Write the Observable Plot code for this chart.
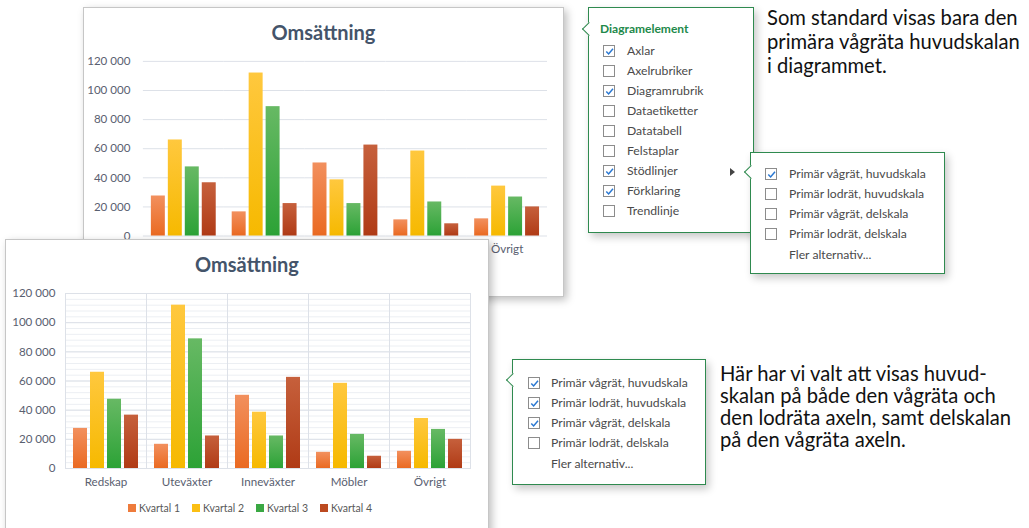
<!DOCTYPE html>
<html><head><meta charset="utf-8">
<script src="https://cdn.jsdelivr.net/npm/d3@7"></script>
<script src="https://cdn.jsdelivr.net/npm/@observablehq/plot@0.6"></script>
<style>
html,body{margin:0;padding:0}
body{width:1029px;height:528px;position:relative;overflow:hidden;background:#fff;font-family:Lato,sans-serif}
.chart{position:absolute;background:#fff;border:1px solid #c6c6c6;box-shadow:3px 3px 8px rgba(0,0,0,.25);box-sizing:border-box}
.chart svg.plot{position:absolute;left:0;top:0}
.ctitle{position:absolute;left:0;right:0;text-align:center;font-weight:bold;font-size:20px;color:#44546a;font-family:Lato,sans-serif}
.legend{position:absolute;left:0;right:0;display:flex;justify-content:center;gap:12px;font-size:10.5px;color:#595959}
.legend span.sw{display:inline-block;width:8px;height:8px;margin-right:3px;vertical-align:-0px}
.panel{position:absolute;background:#fff;border:1px solid #2f8a4f;box-shadow:3px 4px 8px rgba(0,0,0,.22);box-sizing:border-box}
.notch{position:absolute;width:9px;height:9px;background:#fff;border-left:1px solid #2f8a4f;border-bottom:1px solid #2f8a4f;transform:rotate(45deg)}
.row{position:absolute;font-size:12.2px;color:#4a4a4a;white-space:nowrap;line-height:14px}
.cb{position:absolute;width:12px;height:12px;border:1px solid #8c8c8c;background:#fff;box-sizing:border-box}
.cb svg{position:absolute;left:0;top:0}
.ptitle{position:absolute;font-weight:bold;font-size:12px;color:#22894a}
.note{position:absolute;font-size:20.2px;color:#111;font-family:Lato,sans-serif}
</style>
</head><body>
<svg width="0" height="0" style="position:absolute">
<defs>
<linearGradient id="gq1" x1="0" y1="0" x2="0" y2="1"><stop offset="0" stop-color="#f2905e"/><stop offset="1" stop-color="#ea6a22"/></linearGradient>
<linearGradient id="gq2" x1="0" y1="0" x2="0" y2="1"><stop offset="0" stop-color="#ffc83e"/><stop offset="1" stop-color="#f6b900"/></linearGradient>
<linearGradient id="gq3" x1="0" y1="0" x2="0" y2="1"><stop offset="0" stop-color="#67b964"/><stop offset="1" stop-color="#2ca236"/></linearGradient>
<linearGradient id="gq4" x1="0" y1="0" x2="0" y2="1"><stop offset="0" stop-color="#c6603c"/><stop offset="1" stop-color="#b03b16"/></linearGradient>
</defs></svg>
<script>
// ---- data ----
const categories = ["Redskap", "Uteväxter", "Inneväxter", "Möbler", "Övrigt"];
const quarters = ["Kvartal 1", "Kvartal 2", "Kvartal 3", "Kvartal 4"];
const kvartal1 = [27500, 16600, 50200, 11100, 11800];
const kvartal2 = [66000, 112000, 38600, 58400, 34300];
const kvartal3 = [47500, 88900, 22300, 23400, 26800];
const kvartal4 = [36600, 22300, 62500, 8400, 20000];
const yTicks = [0, 20000, 40000, 60000, 80000, 100000, 120000];
const legendColors = ["#ee7b3c", "#fbbf14", "#3aa843", "#bc4a20"];
const gradients = ["url(#gq1)", "url(#gq2)", "url(#gq3)", "url(#gq4)"];

const chartTitle = "Omsättning";
const menuItems = ["Axlar", "Axelrubriker", "Diagramrubrik", "Dataetiketter", "Datatabell", "Felstaplar", "Stödlinjer", "Förklaring", "Trendlinje"];
const menuChecked = [1, 0, 1, 0, 0, 0, 1, 1, 0];
const gridItems = ["Primär vågrät, huvudskala", "Primär lodrät, huvudskala", "Primär vågrät, delskala", "Primär lodrät, delskala"];
const gridCheckedTop = [1, 0, 0, 0];
const gridCheckedBottom = [1, 1, 1, 0];
const moreText = "Fler alternativ...";
const noteTop = ["Som standard visas bara den", "primära vågräta huvudskalan", "i diagrammet."];
const noteBottom = ["Här har vi valt att visas huvud-", "skalan på både den vågräta och", "den lodräta axeln, samt delskalan", "på den vågräta axeln."];

const series = [kvartal1, kvartal2, kvartal3, kvartal4];
const rows = categories.flatMap((c, i) => quarters.map((q, j) => ({category: c, quarter: q, value: series[j][i]})));
const fmt = d => d3.format(",")(d).replace(/,/g, " ");

function makeChart({minor, vgrid, height, tickPad, visibleCats}) {
  const marks = [];
  if (minor) marks.push(Plot.ruleY(d3.range(0, 120001, 4000), {stroke: "#eceff3"}));
  marks.push(Plot.ruleY(yTicks, {stroke: "#dde1e8"}));
  if (vgrid) marks.push(Plot.frame({stroke: "#dde1e8"}));
  marks.push(Plot.barY(rows, {fx: "category", x: "quarter", y: "value", fill: "quarter"}));
  return Plot.plot({
    width: 480, height,
    marginLeft: 57, marginRight: 15, marginTop: 53, marginBottom: height - 228,
    fx: {domain: categories, padding: 0, axis: "bottom", tickSize: 0, tickPadding: 9, label: null,
         tickFormat: d => visibleCats.includes(d) ? d : ""},
    x: {domain: quarters, paddingInner: 0.2, paddingOuter: 0.38, axis: null},
    y: {domain: [0, 120000], ticks: yTicks, tickFormat: fmt, tickSize: 0, tickPadding: tickPad, label: null},
    color: {domain: quarters, range: gradients},
    style: {fontFamily: "Lato, sans-serif", fontSize: "11.6px", color: "#596070", background: "transparent", overflow: "visible"},
    marks
  });
}

function addChart(left, top, w, h, opts, legend) {
  const div = document.createElement("div");
  div.className = "chart";
  Object.assign(div.style, {left: left + "px", top: top + "px", width: w + "px", height: h + "px"});
  const svg = makeChart(opts);
  svg.classList.add("plot");
  div.appendChild(svg);
  const t = document.createElement("div");
  t.className = "ctitle"; t.textContent = chartTitle; t.style.top = "12px";
  div.appendChild(t);
  if (legend) {
    const lg = document.createElement("div");
    lg.className = "legend"; lg.style.top = "262px"; lg.style.left = "6px";
    quarters.forEach((q, i) => {
      const s = document.createElement("span");
      s.innerHTML = `<span class="sw" style="background:${legendColors[i]}"></span>${q}`;
      lg.appendChild(s);
    });
    div.appendChild(lg);
  }
  document.body.appendChild(div);
  return div;
}

const checkSvg = '<svg width="11" height="11"><path d="M2.3 5.6 L4.6 8 L9 2.8" stroke="#2a78d2" stroke-width="1.5" fill="none"/></svg>';
function addPanel(left, top, w, h, notchY) {
  const p = document.createElement("div");
  p.className = "panel";
  Object.assign(p.style, {left: left + "px", top: top + "px", width: w + "px", height: h + "px"});
  const n = document.createElement("div");
  n.className = "notch";
  Object.assign(n.style, {left: "-5.5px", top: (notchY - top - 5.5) + "px"});
  p.appendChild(n);
  document.body.appendChild(p);
  return p;
}
function addRow(panel, pLeft, pTop, cbX, textX, y, text, checked, withBox = true) {
  if (withBox) {
    const cb = document.createElement("div");
    cb.className = "cb";
    Object.assign(cb.style, {left: (cbX - pLeft - 1) + "px", top: (y - pTop - 7) + "px"});
    if (checked) cb.innerHTML = checkSvg;
    panel.appendChild(cb);
  }
  const r = document.createElement("div");
  r.className = "row"; r.textContent = text;
  Object.assign(r.style, {left: (textX - pLeft - 1) + "px", top: (y - pTop - 8) + "px"});
  panel.appendChild(r);
}

// charts
addChart(83, 7, 481, 290, {minor: false, vgrid: false, height: 289, tickPad: 13, visibleCats: ["Övrigt"]}, false);
addChart(5, 239, 484, 300, {minor: true, vgrid: true, height: 290, tickPad: 10, visibleCats: categories}, true);

// panel 1
const p1 = addPanel(588, 7, 166, 226, 28);
const pt = document.createElement("div");
pt.className = "ptitle"; pt.textContent = "Diagramelement";
Object.assign(pt.style, {left: "11px", top: "13px"});
p1.appendChild(pt);
menuItems.forEach((m, i) => addRow(p1, 588, 7, 603, 627, 51 + i * 20, m, menuChecked[i]));
const arrow = document.createElement("div");
Object.assign(arrow.style, {position: "absolute", left: (729 - 588) + "px", top: (167 - 7) + "px", width: 0, height: 0,
  borderTop: "4px solid transparent", borderBottom: "4px solid transparent", borderLeft: "5px solid #444"});
p1.appendChild(arrow);

// panel 2
const p2 = addPanel(750, 152, 195, 122, 171);
gridItems.forEach((m, i) => addRow(p2, 750, 152, 765, 789, 174 + i * 20, m, gridCheckedTop[i]));
addRow(p2, 750, 152, 765, 789, 255, moreText, 0, false);

// panel 3
const p3 = addPanel(512, 359, 194, 126, 379);
gridItems.forEach((m, i) => addRow(p3, 512, 359, 528, 551, 383 + i * 20, m, gridCheckedBottom[i]));
addRow(p3, 512, 359, 528, 551, 464, moreText, 0, false);

// notes
function addNote(left, top, lines, lh) {
  const d = document.createElement("div");
  d.className = "note"; d.innerHTML = lines.join("<br>");
  Object.assign(d.style, {left: left + "px", top: top + "px", lineHeight: lh + "px"});
  document.body.appendChild(d);
}
addNote(767, 5, noteTop, 24);
addNote(720, 362, noteBottom, 22);
</script>
</body></html>
